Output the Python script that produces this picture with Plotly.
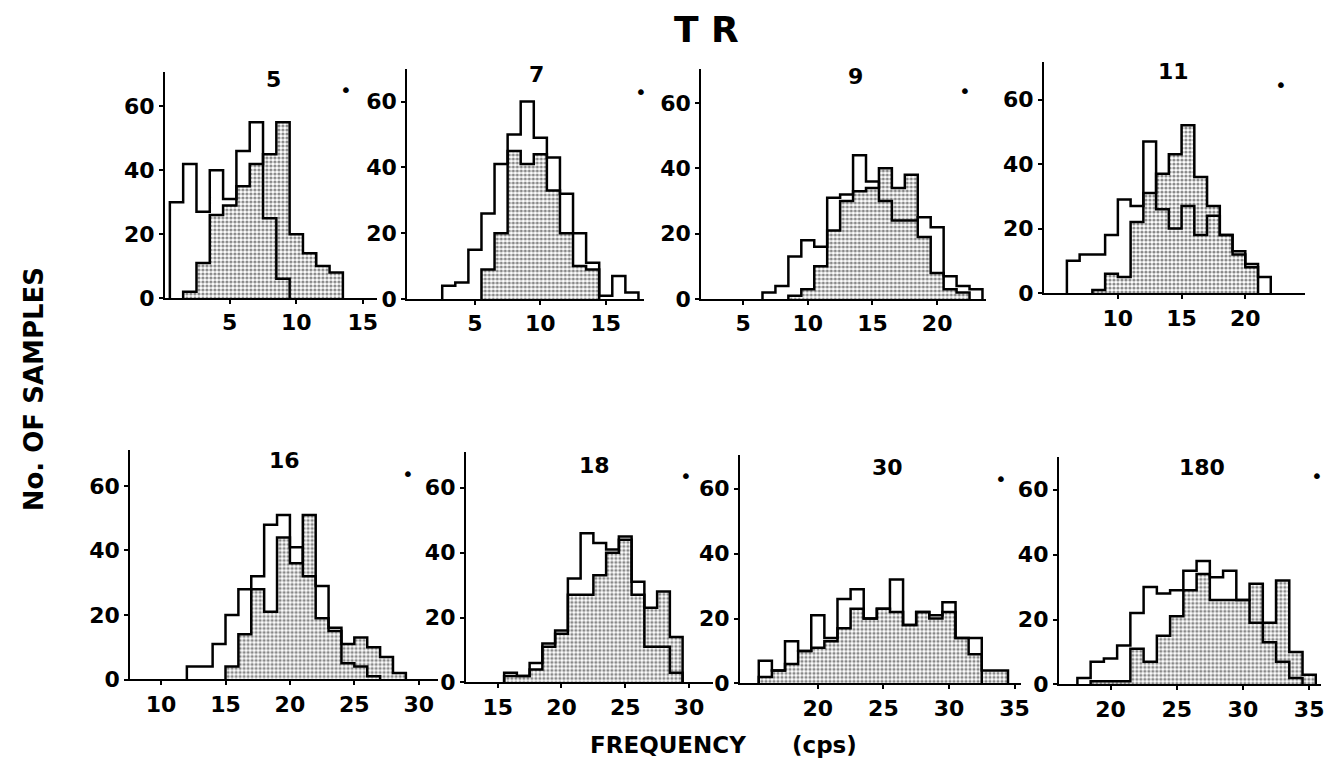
import plotly.graph_objects as go

W, H = 1333, 772

# ---------------- data (bin centre frequency, cps ; number of samples) ----------------
titles = ["5", "7", "9", "11", "16", "18", "30", "180"]

p1_open_f = [1, 2, 3, 4, 5, 6, 7, 8, 9]
p1_open_n = [30, 42, 27, 40, 31, 46, 55, 25, 6]
p1_shad_f = [2, 3, 4, 5, 6, 7, 8, 9, 10, 11, 12, 13]
p1_shad_n = [2, 11, 26, 29, 35, 42, 45, 55, 20, 14, 10, 8]

p2_open_f = [3, 4, 5, 6, 7, 8, 9, 10, 11, 12, 13, 14, 15, 16, 17]
p2_open_n = [4, 5, 15, 26, 41, 50, 60, 49, 43, 32, 20, 11, 1, 7, 2]
p2_shad_f = [6, 7, 8, 9, 10, 11, 12, 13, 14]
p2_shad_n = [9, 20, 45, 41, 44, 33, 20, 10, 9]

p3_open_f = [7, 8, 9, 10, 11, 12, 13, 14, 15, 16, 17, 18, 19, 20, 21, 22, 23]
p3_open_n = [2, 4, 13, 18, 16, 31, 32, 44, 36, 30, 24, 24, 25, 22, 7, 4, 3]
p3_shad_f = [9, 10, 11, 12, 13, 14, 15, 16, 17, 18, 19, 20, 21, 22]
p3_shad_n = [1, 3, 10, 21, 30, 33, 34, 40, 34, 38, 19, 8, 3, 2]

p4_open_f = [6.5, 7.5, 8.5, 9.5, 10.5, 11.5, 12.5, 13.5, 14.5, 15.5, 16.5, 17.5, 18.5, 19.5, 20.5, 21.5]
p4_open_n = [10, 12, 12, 18, 29, 27, 47, 26, 20, 27, 18, 24, 18, 13, 9, 5]
p4_shad_f = [8.5, 9.5, 10.5, 11.5, 12.5, 13.5, 14.5, 15.5, 16.5, 17.5, 18.5, 19.5, 20.5]
p4_shad_n = [1, 6, 5, 22, 31, 37, 43, 52, 36, 27, 18, 12, 8]

p5_open_f = [12.5, 13.5, 14.5, 15.5, 16.5, 17.5, 18.5, 19.5, 20.5, 21.5, 22.5, 23.5, 24.5, 25.5, 26.5]
p5_open_n = [4, 4, 11, 20, 28, 32, 48, 51, 41, 32, 29, 16, 5, 4, 1]
p5_shad_f = [15.5, 16.5, 17.5, 18.5, 19.5, 20.5, 21.5, 22.5, 23.5, 24.5, 25.5, 26.5, 27.5, 28.5]
p5_shad_n = [4, 14, 28, 21, 44, 36, 51, 19, 15, 11, 13, 10, 7, 2]

p6_open_f = [16, 17, 18, 19, 20, 21, 22, 23, 24, 25, 26, 27, 28, 29]
p6_open_n = [3, 2, 6, 12, 16, 32, 46, 43, 41, 45, 31, 11, 11, 3]
p6_shad_f = [16, 17, 18, 19, 20, 21, 22, 23, 24, 25, 26, 27, 28, 29]
p6_shad_n = [2, 2, 4, 11, 15, 27, 27, 33, 40, 44, 27, 23, 28, 14]

p7_open_f = [16, 17, 18, 19, 20, 21, 22, 23, 24, 25, 26, 27, 28, 29, 30, 31, 32]
p7_open_n = [7, 4, 13, 10, 21, 14, 26, 29, 20, 23, 32, 18, 22, 21, 25, 14, 14]
p7_shad_f = [16, 17, 18, 19, 20, 21, 22, 23, 24, 25, 26, 27, 28, 29, 30, 31, 32, 33, 34]
p7_shad_n = [2, 4, 6, 10, 11, 13, 17, 23, 20, 23, 22, 18, 22, 20, 22, 14, 9, 4, 4]

p8_open_f = [18, 19, 20, 21, 22, 23, 24, 25, 26, 27, 28, 29, 30, 31, 32, 33, 34]
p8_open_n = [2, 7, 8, 12, 22, 30, 28, 29, 35, 38, 33, 35, 26, 19, 13, 7, 2]
p8_shad_f = [19, 20, 21, 22, 23, 24, 25, 26, 27, 28, 29, 30, 31, 32, 33, 34, 35]
p8_shad_n = [1, 1, 1, 11, 7, 15, 21, 29, 34, 26, 26, 26, 31, 19, 32, 10, 3]

x_ticks = [[5, 10, 15], [5, 10, 15], [5, 10, 15, 20], [10, 15, 20],
           [10, 15, 20, 25, 30], [15, 20, 25, 30], [20, 25, 30, 35], [20, 25, 30, 35]]
y_ticks = [0, 20, 40, 60]

# ---------------- layout geometry (pixels) ----------------
panel_px = [  # x0, x1, ytop, ybase
    (158, 372, 65, 295), (402, 640, 62, 296), (698, 985, 62, 296), (1043, 1306, 55, 290),
    (123, 433, 450, 683), (461, 710, 452, 686), (737, 1020, 455, 687), (1058, 1322, 457, 688),
]
x_ranges = [(0.13, 16.1), (-0.17, 17.9), (1.77, 23.8), (4.2, 24.7),
            (7.6, 31.5), (12.5, 31.9), (14.07, 35.5), (16.1, 35.9)]
y_tops = [70.8, 69.9, 70.4, 71.6, 71.0, 70.9, 70.3, 70.0]
title_px = [(267, 73), (532, 68), (853, 70), (1173, 65), (278, 460), (590, 465), (885, 467), (1202, 467)]
dot_px = [(340, 83), (637, 85), (964, 84), (1282, 78), (403, 474), (683, 476), (1000, 479), (1318, 476)]

opens = [(p1_open_f, p1_open_n), (p2_open_f, p2_open_n), (p3_open_f, p3_open_n), (p4_open_f, p4_open_n),
         (p5_open_f, p5_open_n), (p6_open_f, p6_open_n), (p7_open_f, p7_open_n), (p8_open_f, p8_open_n)]
shads = [(p1_shad_f, p1_shad_n), (p2_shad_f, p2_shad_n), (p3_shad_f, p3_shad_n), (p4_shad_f, p4_shad_n),
         (p5_shad_f, p5_shad_n), (p6_shad_f, p6_shad_n), (p7_shad_f, p7_shad_n), (p8_shad_f, p8_shad_n)]


def step_xy(centres, counts):
    w = centres[1] - centres[0]
    edges = [c - w / 2 for c in centres] + [centres[-1] + w / 2]
    xs = [edges[0]] + edges
    ys = [0] + list(counts) + [0]
    return xs, ys


FONT = "DejaVu Sans"
fig = go.Figure()
ann = []
layout_axes = {}

for i in range(8):
    k = "" if i == 0 else str(i + 1)
    xa, ya = "x" + k, "y" + k
    sx, sy = step_xy(*shads[i])
    fig.add_trace(go.Scatter(
        x=sx, y=sy, xaxis=xa, yaxis=ya, mode="lines", line_shape="hv",
        line=dict(color="black", width=2.5), fill="tozeroy",
        fillpattern=dict(shape=".", bgcolor="white", fgcolor="#111111", size=4, solidity=0.5),
        hoverinfo="skip", showlegend=False))
    ox, oy = step_xy(*opens[i])
    fig.add_trace(go.Scatter(
        x=ox, y=oy, xaxis=xa, yaxis=ya, mode="lines", line_shape="hv",
        line=dict(color="black", width=2.5), hoverinfo="skip", showlegend=False))

    x0, x1, yt, yb = panel_px[i]
    tickfont = dict(family=FONT, size=22, color="black", weight="bold")
    layout_axes["xaxis" + k] = dict(
        domain=[x0 / W, x1 / W], anchor=ya, range=list(x_ranges[i]), tickvals=x_ticks[i],
        showline=True, linecolor="black", linewidth=2, ticks="outside", ticklen=4, tickwidth=2,
        tickcolor="black", showgrid=False, zeroline=False, tickfont=tickfont, fixedrange=True)
    layout_axes["yaxis" + k] = dict(
        domain=[1 - yb / H, 1 - yt / H], anchor=xa, range=[0, y_tops[i]], tickvals=y_ticks,
        showline=True, linecolor="black", linewidth=2, ticks="outside", ticklen=4, tickwidth=2,
        tickcolor="black", showgrid=False, zeroline=False, tickfont=tickfont, fixedrange=True)

    tx, ty = title_px[i]
    ann.append(dict(text=titles[i], x=tx / W, y=1 - ty / H, xref="paper", yref="paper",
                    showarrow=False, xanchor="center", yanchor="middle",
                    font=dict(family=FONT, size=22, color="black", weight="bold")))
    dx, dy = dot_px[i]
    ann.append(dict(text="•", x=dx / W, y=1 - dy / H, xref="paper", yref="paper",
                    showarrow=False, xanchor="center", yanchor="middle",
                    font=dict(family=FONT, size=20, color="black")))

ann.append(dict(text="T R", x=703 / W, y=1.0, xref="paper", yref="paper", showarrow=False,
                xanchor="center", yanchor="top", borderpad=0,
                font=dict(family=FONT, size=36, color="black", weight="bold")))
ann.append(dict(text="No. OF SAMPLES", x=27 / W, y=1 - 388 / H, xref="paper", yref="paper",
                showarrow=False, xanchor="center", yanchor="middle", textangle=-90,
                font=dict(family=FONT, size=26, color="black", weight="bold")))
ann.append(dict(text="FREQUENCY", x=664 / W, y=1 - 750 / H, xref="paper", yref="paper",
                showarrow=False, xanchor="center", yanchor="middle",
                font=dict(family=FONT, size=23, color="black", weight="bold")))
ann.append(dict(text="(cps)", x=822 / W, y=1 - 750 / H, xref="paper", yref="paper",
                showarrow=False, xanchor="center", yanchor="middle",
                font=dict(family=FONT, size=23, color="black", weight="bold")))

fig.update_layout(width=W, height=H, autosize=False, margin=dict(l=0, r=0, t=0, b=0, pad=0),
                  paper_bgcolor="white", plot_bgcolor="rgba(0,0,0,0)", showlegend=False,
                  annotations=ann, **layout_axes)

fig.write_html("out.html", config={"displayModeBar": False})
